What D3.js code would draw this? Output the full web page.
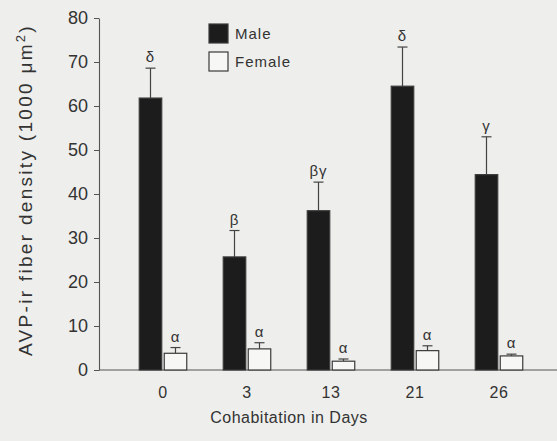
<!DOCTYPE html>
<html>
<head>
<meta charset="utf-8">
<script src="https://cdn.jsdelivr.net/npm/d3@7"></script>
<style>
  body { margin: 0; background: #eeeeec; }
  svg { display: block; }
  text { font-family: "Liberation Sans", Arial, sans-serif; fill: #333; }
</style>
</head>
<body>
<div id="chart"></div>
<script>
const days = ["0", "3", "13", "21", "26"];
const sexes = ["Male", "Female"];
const maleMean = [61.8, 25.7, 36.2, 64.5, 44.4];
const maleErr = [6.8, 6.0, 6.5, 8.9, 8.6];
const maleSig = ["δ", "β", "βγ", "δ", "γ"];
const femaleMean = [3.8, 4.8, 2.0, 4.4, 3.2];
const femaleErr = [1.3, 1.4, 0.5, 1.1, 0.4];
const femaleSig = ["α", "α", "α", "α", "α"];
const yTicks = [0, 10, 20, 30, 40, 50, 60, 70, 80];

const width = 557, height = 441;
const margin = {top: 18, right: 16, bottom: 71, left: 99};

const svg = d3.select("#chart").append("svg")
    .attr("width", width)
    .attr("height", height);

svg.append("rect").attr("width", width).attr("height", height).attr("fill", "#eeeeec");

let rows = [];
days.forEach(function(d, i) {
    rows.push({day: d, sex: "Male", v: maleMean[i], e: maleErr[i], sig: maleSig[i]});
    rows.push({day: d, sex: "Female", v: femaleMean[i], e: femaleErr[i], sig: femaleSig[i]});
});

let x0 = d3.scaleBand().domain(days).range([121, 541]);
let x1 = d3.scaleBand().domain(sexes).range([0, x0.bandwidth()]).paddingInner(0.1).paddingOuter(0.73);
let y = d3.scaleLinear().domain([0, 80]).range([height - margin.bottom, margin.top]);

// y axis
let yAxis = svg.append("g")
    .attr("transform", "translate(" + margin.left + ",0)")
    .call(d3.axisLeft(y).tickValues(yTicks).tickSize(5).tickPadding(6).tickSizeOuter(0));
yAxis.select(".domain").attr("stroke", "#555").attr("stroke-width", 1.1);
yAxis.selectAll(".tick line").attr("stroke", "#555");
yAxis.selectAll(".tick text").attr("font-size", 18).attr("fill", "#3a3a3a")
    .attr("font-family", "Liberation Sans, Arial, sans-serif");

// baseline
svg.append("line")
    .attr("x1", margin.left).attr("x2", width)
    .attr("y1", y(0)).attr("y2", y(0))
    .attr("stroke", "#555").attr("stroke-width", 1.1);

// x labels
svg.append("g").selectAll("text")
    .data(days)
    .enter().append("text")
    .attr("x", function(d) { return x0(d) + x0.bandwidth() / 2; })
    .attr("y", 398)
    .attr("text-anchor", "middle")
    .attr("font-size", 16)
    .attr("letter-spacing", 0.5)
    .text(function(d) { return d; });

let barX = function(d) { return x0(d.day) + x1(d.sex); };
let barMid = function(d) { return barX(d) + x1.bandwidth() / 2; };

// error bars
let err = svg.append("g").attr("stroke", "#444").attr("stroke-width", 1.2);
err.selectAll(".stem")
    .data(rows)
    .enter().append("line")
    .attr("x1", barMid).attr("x2", barMid)
    .attr("y1", function(d) { return y(d.v); })
    .attr("y2", function(d) { return y(d.v + d.e); });
err.selectAll(".cap")
    .data(rows)
    .enter().append("line")
    .attr("x1", function(d) { return barMid(d) - 5; })
    .attr("x2", function(d) { return barMid(d) + 5; })
    .attr("y1", function(d) { return y(d.v + d.e); })
    .attr("y2", function(d) { return y(d.v + d.e); });

// bars
svg.append("g").selectAll("rect")
    .data(rows)
    .enter().append("rect")
    .attr("x", barX)
    .attr("y", function(d) { return y(d.v); })
    .attr("width", x1.bandwidth())
    .attr("height", function(d) { return y(0) - y(d.v); })
    .attr("fill", function(d) { return d.sex == "Male" ? "#1c1c1c" : "#f7f7f5"; })
    .attr("stroke", "#3a3a3a")
    .attr("stroke-width", 1.2);

// significance letters
svg.append("g").selectAll("text")
    .data(rows)
    .enter().append("text")
    .attr("x", barMid)
    .attr("y", function(d) { return y(d.v + d.e) - 6; })
    .attr("text-anchor", "middle")
    .attr("font-family", "DejaVu Serif, serif")
    .attr("font-size", 15)
    .attr("letter-spacing", 1)
    .text(function(d) { return d.sig; });

// legend
let legend = svg.append("g").attr("transform", "translate(209,24)");
sexes.forEach(function(s, i) {
    let g = legend.append("g").attr("transform", "translate(0," + (i * 28) + ")");
    g.append("rect")
        .attr("width", 19).attr("height", 19)
        .attr("fill", i == 0 ? "#1c1c1c" : "#f7f7f5")
        .attr("stroke", "#3a3a3a").attr("stroke-width", 1.2);
    g.append("text")
        .attr("x", 26).attr("y", 15)
        .attr("font-size", 15)
        .attr("letter-spacing", 1)
        .text(s);
});

// axis titles
svg.append("text")
    .attr("transform", "translate(32,190) rotate(-90)")
    .attr("text-anchor", "middle")
    .attr("font-size", 19)
    .attr("letter-spacing", 2.3)
    .html("AVP-ir fiber density (1000 μm<tspan dy='-7' font-size='13'>2</tspan><tspan dy='7'>)</tspan>");

svg.append("text")
    .attr("x", 289)
    .attr("y", 423)
    .attr("text-anchor", "middle")
    .attr("font-size", 16)
    .attr("letter-spacing", 0.5)
    .text("Cohabitation in Days");
</script>
</body>
</html>
